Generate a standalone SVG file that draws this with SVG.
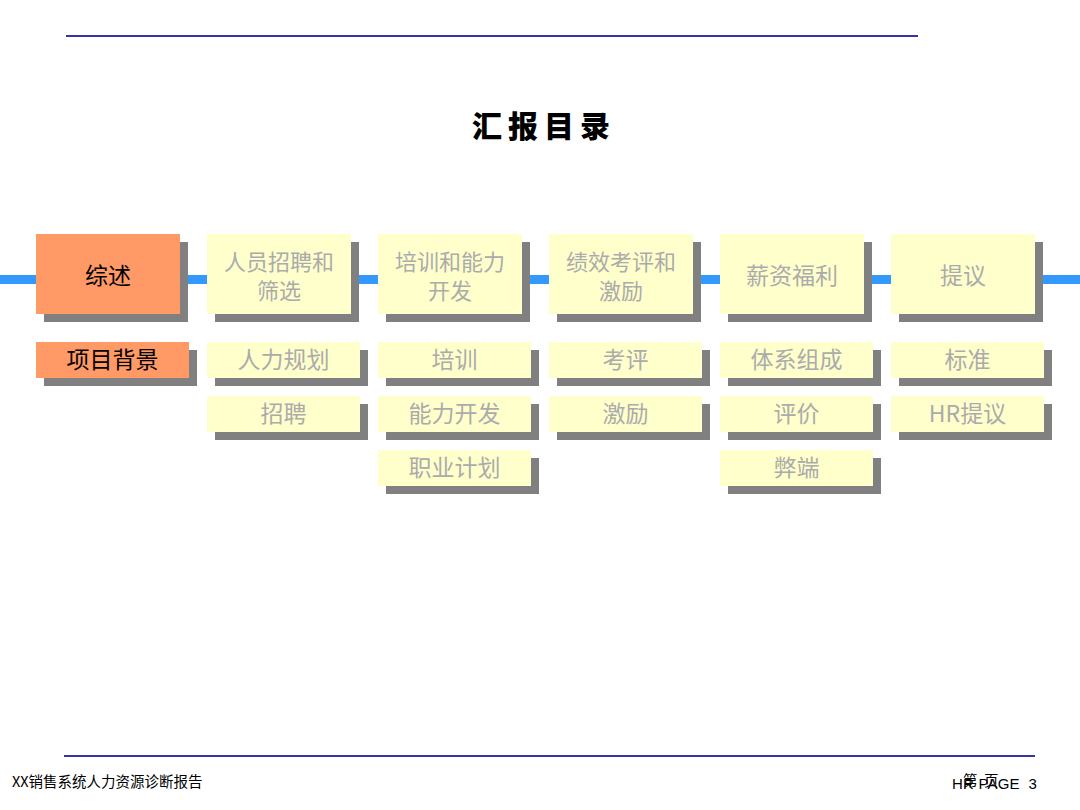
<svg xmlns="http://www.w3.org/2000/svg" width="1080" height="810" viewBox="0 0 1080 810">
<style>
.sh{fill:#808080}
.y{fill:#FFFFCC}
.o{fill:#FF9966}
.t{font-family:"Noto Sans CJK SC","Noto Sans",sans-serif;font-size:23px;text-anchor:middle;fill:#ABABAB}
.tt{font-size:22px}
.tk{fill:#000000}
.rule{stroke:#3333AA;stroke-width:2}
.ft{font-family:"Noto Sans CJK SC","Liberation Sans",sans-serif;font-size:14.5px;fill:#000000}
</style>
<rect width="1080" height="810" fill="#FFFFFF"/>
<line class="rule" x1="66" y1="36" x2="918" y2="36"/>
<line class="rule" x1="64" y1="756" x2="1035" y2="756"/>
<text x="544" y="137" font-family="'Noto Sans CJK SC',sans-serif" font-size="30" font-weight="900" letter-spacing="6" text-anchor="middle">汇报目录</text>
<g id="connectors">
<rect x="0" y="275" width="1080" height="9" fill="#3399FF"/>
</g>
<g id="n1"><rect class="sh" x="44" y="242" width="144" height="80"/><rect class="o" x="36" y="234" width="144" height="80"/><text class="t tk" x="108" y="284">综述</text></g>
<g id="n2"><rect class="sh" x="215" y="242" width="144" height="80"/><rect class="y" x="207" y="234" width="144" height="80"/><text class="t tt" x="279" y="270">人员招聘和</text><text class="t tt" x="279" y="299">筛选</text></g>
<g id="n3"><rect class="sh" x="386" y="242" width="144" height="80"/><rect class="y" x="378" y="234" width="144" height="80"/><text class="t tt" x="450" y="270">培训和能力</text><text class="t tt" x="450" y="299">开发</text></g>
<g id="n4"><rect class="sh" x="557" y="242" width="144" height="80"/><rect class="y" x="549" y="234" width="144" height="80"/><text class="t tt" x="621" y="270">绩效考评和</text><text class="t tt" x="621" y="299">激励</text></g>
<g id="n5"><rect class="sh" x="728" y="242" width="144" height="80"/><rect class="y" x="720" y="234" width="144" height="80"/><text class="t" x="792" y="284">薪资福利</text></g>
<g id="n6"><rect class="sh" x="899" y="242" width="144" height="80"/><rect class="y" x="891" y="234" width="144" height="80"/><text class="t" x="963" y="284">提议</text></g>

<g id="s1a"><rect class="sh" x="44" y="350" width="153" height="36"/><rect class="o" x="36" y="342" width="153" height="36"/><text class="t tk" x="112.5" y="368">项目背景</text></g>

<g id="s2a"><rect class="sh" x="215" y="350" width="153" height="36"/><rect class="y" x="207" y="342" width="153" height="36"/><text class="t" x="283.5" y="368">人力规划</text></g>
<g id="s2b"><rect class="sh" x="215" y="404" width="153" height="36"/><rect class="y" x="207" y="396" width="153" height="36"/><text class="t" x="283.5" y="422">招聘</text></g>

<g id="s3a"><rect class="sh" x="386" y="350" width="153" height="36"/><rect class="y" x="378" y="342" width="153" height="36"/><text class="t" x="454.5" y="368">培训</text></g>
<g id="s3b"><rect class="sh" x="386" y="404" width="153" height="36"/><rect class="y" x="378" y="396" width="153" height="36"/><text class="t" x="454.5" y="422">能力开发</text></g>
<g id="s3c"><rect class="sh" x="386" y="458" width="153" height="36"/><rect class="y" x="378" y="450" width="153" height="36"/><text class="t" x="454.5" y="476">职业计划</text></g>

<g id="s4a"><rect class="sh" x="557" y="350" width="153" height="36"/><rect class="y" x="549" y="342" width="153" height="36"/><text class="t" x="625.5" y="368">考评</text></g>
<g id="s4b"><rect class="sh" x="557" y="404" width="153" height="36"/><rect class="y" x="549" y="396" width="153" height="36"/><text class="t" x="625.5" y="422">激励</text></g>

<g id="s5a"><rect class="sh" x="728" y="350" width="153" height="36"/><rect class="y" x="720" y="342" width="153" height="36"/><text class="t" x="796.5" y="368">体系组成</text></g>
<g id="s5b"><rect class="sh" x="728" y="404" width="153" height="36"/><rect class="y" x="720" y="396" width="153" height="36"/><text class="t" x="796.5" y="422">评价</text></g>
<g id="s5c"><rect class="sh" x="728" y="458" width="153" height="36"/><rect class="y" x="720" y="450" width="153" height="36"/><text class="t" x="796.5" y="476">弊端</text></g>

<g id="s6a"><rect class="sh" x="899" y="350" width="153" height="36"/><rect class="y" x="891" y="342" width="153" height="36"/><text class="t" x="967.5" y="368">标准</text></g>
<g id="s6b"><rect class="sh" x="899" y="404" width="153" height="36"/><rect class="y" x="891" y="396" width="153" height="36"/><text class="t" x="967.5" y="422">HR提议</text></g>

<text class="ft" x="12" y="787">XX销售系统人力资源诊断报告</text>
<text x="952" y="789" font-family="'Liberation Sans',sans-serif" font-size="15" letter-spacing="0.2" xml:space="preserve">HR PAGE  3</text>
<text class="ft" x="963" y="786" xml:space="preserve">第  页</text>
</svg>
